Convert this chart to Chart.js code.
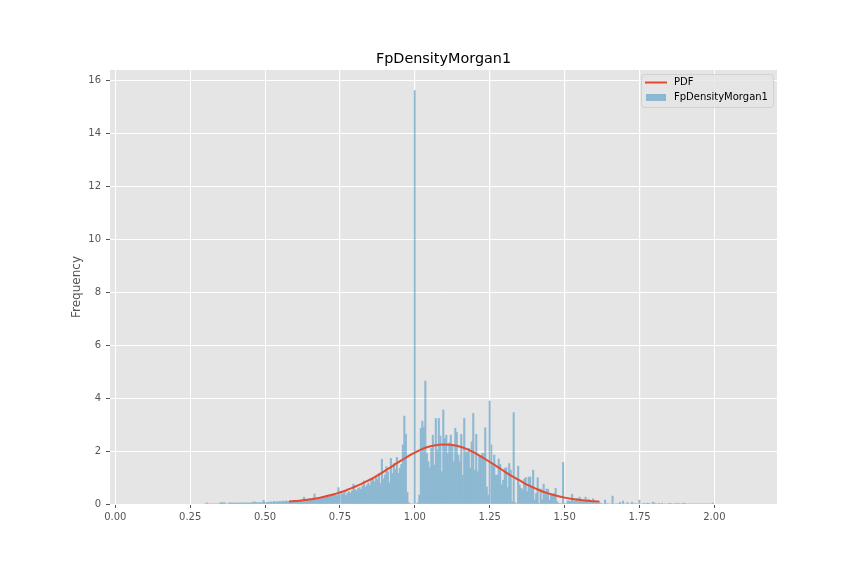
<!DOCTYPE html>
<html>
<head>
<meta charset="utf-8">
<script src="https://cdn.jsdelivr.net/npm/chart.js@4.4.1/dist/chart.umd.min.js"></script>
<style>
  html, body { margin: 0; padding: 0; background: #fff; }
</style>
</head>
<body>
<canvas id="histChart" width="864" height="576"></canvas>
<script>
// histogram: density per bin, bins of 0.005 (first bin centred on 0.30)
var binStart = 0.2975;
var binWidth = 0.005;

var densityLeft = [
    0, 0.04, 0, 0, 0, 0, 0, 0, 0, 0, 0.04, 0.06, 0.04, 0.05, 0, 0, 0.04, 0.04, 0.04, 0.04,
    0.03, 0.04, 0.04, 0.04, 0.04, 0.04, 0.04, 0.04, 0.04, 0.04, 0.04, 0.05, 0.07, 0.08, 0.06, 0.04, 0.05, 0.06, 0.05, 0.14,
    0.07, 0.05, 0.07, 0.06, 0.08, 0.06, 0.1, 0.07, 0.09, 0.08, 0.1, 0.08, 0.11, 0.09, 0.12, 0.1, 0.09, 0.11, 0.1, 0.13,
    0.12, 0.14, 0.1, 0.13, 0.12, 0.15, 0.26, 0.14, 0.16, 0.13, 0.2, 0.15, 0.22, 0.38, 0.18, 0.22, 0.24, 0.21, 0.26, 0.25,
    0.28, 0.3, 0.26, 0.32, 0.3, 0.34, 0.33, 0.36, 0.31, 0.62, 0.35, 0.4, 0.38, 0.44, 0.32, 0.42, 0.47, 0.41, 0.5, 0.75
];
var densityCore = [
    0.55, 0.5, 0.58, 0.62, 0.55, 0.68, 0.87, 0.64, 0.72, 0.8, 0.7, 0.88, 0.95, 0.84, 1.05, 0.92, 1.15, 0.78, 1.69, 0.95,
    1.1, 1.41, 1.22, 0.8, 1.72, 1.15, 1.53, 1.3, 1.76, 1.16, 1.35, 1.5, 2.23, 3.32, 2.64, 0.44, 0.05, 0, 0, 0,
    15.6, 0, 0.05, 0.34, 2.86, 3.13, 2.9, 4.64, 1.91, 1.6, 1.37, 2.1, 2.6, 1.47, 3.23, 2.04, 3.23, 2.57, 1.22, 3.55,
    2.48, 2.6, 1.91, 2.3, 2.6, 2.2, 1.6, 2.86, 2.7, 1.85, 1.6, 2.63, 1.09, 3.23, 1.97, 1.97, 2.1, 1.35, 2.35, 3.42,
    1.28, 2.63, 1.22, 1.79, 1.79, 1.91, 1.91, 2.88, 0.65, 0.34, 3.89, 2.23, 1.53, 1.85, 1.09, 1.09, 1.7, 1.5, 0.72, 0.9,
    1.35, 1.37, 0.62, 1.53, 1.28, 0.09, 3.45, 0.05, 0, 1.43, 0.72, 0.59, 0.53, 0.94, 1.0, 0.47, 1.02, 1.02, 0.6, 1.28,
    0.15, 0.4, 0.99, 0.02, 0.57, 0.15, 0.75, 0.4, 0.57, 0.55, 0.15, 0.4, 0.37, 0.4, 0.59, 0.09, 0.02, 0.02, 0, 1.57
];
var densityRight = [
    0.03, 0.02, 0.12, 0.12, 0.1, 0.37, 0.12, 0.1, 0.21, 0.1, 0.26, 0.12, 0.1, 0.08, 0.26, 0.12, 0.18, 0.06, 0.08, 0.2,
    0.08, 0.05, 0.04, 0.11, 0.03, 0, 0, 0.15, 0.02, 0, 0, 0, 0.3, 0, 0, 0, 0.02, 0.07, 0, 0.11,
    0, 0, 0.06, 0, 0, 0.07, 0, 0.02, 0, 0, 0.15, 0, 0, 0.03, 0, 0.03, 0.03, 0, 0, 0.07,
    0.04, 0, 0, 0.03, 0, 0.03, 0, 0, 0, 0, 0.03, 0.02, 0, 0, 0.03, 0, 0.03, 0, 0, 0.03,
    0.03, 0, 0, 0, 0, 0, 0, 0, 0, 0, 0, 0, 0, 0, 0, 0, 0, 0, 0, 0.04
];

// fitted curve
var pdfX = [0.58, 0.60, 0.62, 0.64, 0.66, 0.68, 0.70, 0.72, 0.74, 0.76, 0.78, 0.80, 0.82, 0.84, 0.86, 0.88,
    0.90, 0.92, 0.94, 0.96, 0.98, 1.00, 1.02, 1.04, 1.06, 1.08, 1.10, 1.12, 1.14, 1.16, 1.18, 1.20,
    1.22, 1.24, 1.26, 1.28, 1.30, 1.32, 1.34, 1.36, 1.38, 1.40, 1.42, 1.44, 1.46, 1.48, 1.50, 1.52,
    1.54, 1.56, 1.58, 1.60, 1.615];
var pdfY = [0.09, 0.11, 0.13, 0.16, 0.19, 0.23, 0.28, 0.34, 0.40, 0.47, 0.56, 0.65, 0.75, 0.86, 0.98, 1.11,
    1.25, 1.39, 1.54, 1.68, 1.82, 1.94, 2.05, 2.14, 2.20, 2.24, 2.25, 2.24, 2.20, 2.13, 2.04, 1.93,
    1.80, 1.66, 1.52, 1.37, 1.22, 1.08, 0.95, 0.82, 0.70, 0.60, 0.50, 0.42, 0.35, 0.29, 0.24, 0.20,
    0.17, 0.14, 0.12, 0.10, 0.09];

var xTicks = [0, 0.25, 0.5, 0.75, 1.0, 1.25, 1.5, 1.75, 2.0];
var yTicks = [0, 2, 4, 6, 8, 10, 12, 14, 16];
var xMin = -0.0177, xMax = 2.209;
var yMax = 16.38;

var chartTitle = 'FpDensityMorgan1';
var yLabel = 'Frequency';

var density = densityLeft.concat(densityCore, densityRight);
var histPoints = [];
for (var i = 0; i < density.length; i++) {
    histPoints.push({ x: binStart + (i + 0.5) * binWidth, y: density[i] });
}
var pdfPoints = [];
for (var j = 0; j < pdfX.length; j++) {
    pdfPoints.push({ x: pdfX[j], y: pdfY[j] });
}

var FONT = 'DejaVu Sans';

var backgroundPlugin = {
    id: 'axesBackground',
    beforeDraw: function(chart) {
        var a = chart.chartArea;
        var ctx = chart.ctx;
        ctx.save();
        ctx.fillStyle = '#E5E5E5';
        ctx.fillRect(a.left, a.top, a.right - a.left, a.bottom - a.top);
        ctx.restore();
    },
    // bars are opaque, so let the white grid show faintly through them
    afterDatasetDraw: function(chart, args) {
        if (args.index !== 1) return;
        var a = chart.chartArea;
        var ctx = chart.ctx;
        var xs = chart.scales.x, ys = chart.scales.y;
        ctx.save();
        ctx.strokeStyle = 'rgba(255,255,255,0.22)';
        ctx.lineWidth = 1;
        ctx.beginPath();
        xTicks.forEach(function(v) {
            var px = Math.round(xs.getPixelForValue(v)) + 0.5;
            ctx.moveTo(px, a.top);
            ctx.lineTo(px, a.bottom);
        });
        yTicks.forEach(function(v) {
            var py = Math.round(ys.getPixelForValue(v)) + 0.5;
            ctx.moveTo(a.left, py);
            ctx.lineTo(a.right, py);
        });
        ctx.stroke();
        ctx.restore();
    }
};

function roundRect(ctx, x, y, w, h, r) {
    ctx.beginPath();
    ctx.moveTo(x + r, y);
    ctx.lineTo(x + w - r, y);
    ctx.quadraticCurveTo(x + w, y, x + w, y + r);
    ctx.lineTo(x + w, y + h - r);
    ctx.quadraticCurveTo(x + w, y + h, x + w - r, y + h);
    ctx.lineTo(x + r, y + h);
    ctx.quadraticCurveTo(x, y + h, x, y + h - r);
    ctx.lineTo(x, y + r);
    ctx.quadraticCurveTo(x, y, x + r, y);
    ctx.closePath();
}

var titleLegendPlugin = {
    id: 'titleLegend',
    afterDraw: function(chart) {
        var a = chart.chartArea;
        var ctx = chart.ctx;
        ctx.save();

        // title
        ctx.fillStyle = '#000';
        ctx.font = '14.4px "' + FONT + '"';
        ctx.textAlign = 'center';
        ctx.textBaseline = 'middle';
        ctx.fillText(chartTitle, (a.left + a.right) / 2, a.top - 11);

        // legend, upper right
        var lineDs = chart.data.datasets[0];
        var barDs = chart.data.datasets[1];
        var boxW = 132, boxH = 33;
        var bx = a.right - 4 - boxW, by = a.top + 4;
        roundRect(ctx, bx + 0.5, by + 0.5, boxW, boxH, 3);
        ctx.fillStyle = 'rgba(229,229,229,0.8)';
        ctx.fill();
        ctx.strokeStyle = 'rgba(204,204,204,0.8)';
        ctx.lineWidth = 1;
        ctx.stroke();

        ctx.strokeStyle = lineDs.borderColor;
        ctx.lineWidth = 2;
        ctx.beginPath();
        ctx.moveTo(bx + 4, by + 8.5);
        ctx.lineTo(bx + 26, by + 8.5);
        ctx.stroke();

        ctx.fillStyle = barDs.backgroundColor;
        ctx.fillRect(bx + 5, by + 20, 20, 7);

        ctx.fillStyle = '#000';
        ctx.font = '10px "' + FONT + '"';
        ctx.textAlign = 'left';
        ctx.fillText(lineDs.label, bx + 33, by + 8.5);
        ctx.fillText(barDs.label, bx + 33, by + 23.5);
        ctx.restore();
    }
};

function gridStyle() {
    return {
        color: '#FFFFFF',
        lineWidth: 1,
        offset: false,
        drawTicks: true,
        tickLength: 4,
        tickColor: '#555555',
        tickWidth: 1
    };
}

new Chart(document.getElementById('histChart'), {
    type: 'bar',
    data: {
        datasets: [{
            type: 'line',
            label: 'PDF',
            data: pdfPoints,
            borderColor: '#E24A33',
            borderWidth: 2,
            pointRadius: 0,
            cubicInterpolationMode: 'monotone',
            fill: false,
            order: 0
        }, {
            type: 'bar',
            label: 'FpDensityMorgan1',
            data: histPoints,
            backgroundColor: '#8DB8D2',
            borderWidth: 0,
            inflateAmount: 0.3,
            barPercentage: 1.0,
            categoryPercentage: 1.0,
            order: 1
        }]
    },
    options: {
        responsive: false,
        animation: false,
        devicePixelRatio: 1,
        layout: { padding: { top: 70, right: 87, bottom: 0, left: 0 } },
        plugins: {
            legend: { display: false },
            title: { display: false },
            tooltip: { enabled: false }
        },
        scales: {
            x: {
                type: 'linear',
                min: xMin,
                max: xMax,
                offset: false,
                grid: gridStyle(),
                border: { display: false },
                ticks: {
                    color: '#555555',
                    font: { family: FONT, size: 10 },
                    padding: 3,
                    maxRotation: 0,
                    autoSkip: false,
                    callback: function(v) { return v.toFixed(2); }
                },
                afterBuildTicks: function(scale) {
                    scale.ticks = xTicks.map(function(v) { return { value: v }; });
                },
                afterFit: function(scale) { scale.height = 72; }
            },
            y: {
                min: 0,
                max: yMax,
                grid: gridStyle(),
                border: { display: false },
                ticks: {
                    color: '#555555',
                    font: { family: FONT, size: 10 },
                    padding: 5,
                    callback: function(v) { return String(v); }
                },
                title: {
                    display: true,
                    text: yLabel,
                    color: '#555555',
                    font: { family: FONT, size: 12 },
                    padding: { top: 69.8, bottom: 0 }
                },
                afterBuildTicks: function(scale) {
                    scale.ticks = yTicks.map(function(v) { return { value: v }; });
                },
                afterFit: function(scale) { scale.width = 110; }
            }
        }
    },
    plugins: [backgroundPlugin, titleLegendPlugin]
});
</script>
</body>
</html>
